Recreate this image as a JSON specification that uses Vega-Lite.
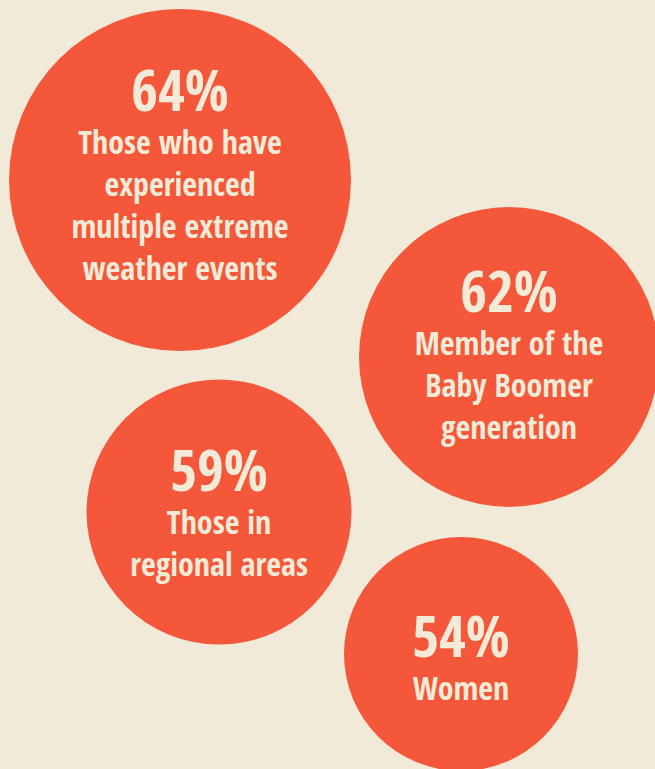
{
  "$schema": "https://vega.github.io/schema/vega-lite/v6.json",
  "width": 655,
  "height": 769,
  "padding": 0,
  "autosize": "none",
  "background": "#f2ead9",
  "config": {"view": {"stroke": null}},
  "data": {
    "values": [
      {"pct": 64, "desc": "Those who have\nexperienced\nmultiple extreme\nweather events", "cx": 180, "cy": 180},
      {"pct": 62, "desc": "Member of the\nBaby Boomer\ngeneration", "cx": 509, "cy": 357},
      {"pct": 59, "desc": "Those in\nregional areas", "cx": 219, "cy": 512},
      {"pct": 54, "desc": "Women", "cx": 461, "cy": 654}
    ]
  },
  "encoding": {
    "x": {"field": "cx", "type": "quantitative", "scale": {"domain": [0, 655], "nice": false, "zero": false}, "axis": null},
    "y": {"field": "cy", "type": "quantitative", "scale": {"domain": [0, 769], "nice": false, "zero": false, "reverse": true}, "axis": null}
  },
  "layer": [
    {
      "mark": {"type": "circle", "color": "#f45739", "opacity": 1},
      "encoding": {
        "size": {"field": "pct", "type": "quantitative", "scale": {"domain": [54, 59, 62, 64], "range": [54756, 70225, 90000, 116964]}, "legend": null}
      }
    },
    {
      "mark": {"type": "text", "font": "Noto Sans Condensed, Open Sans Condensed, DejaVu Sans Condensed, sans-serif", "fontWeight": "bold", "fontSize": 58, "color": "#f3ead8", "align": "center", "baseline": "alphabetic",
        "dy": {"expr": "27 - 24 * length(split(datum.desc, '\\n'))"},
        "text": {"expr": "datum.pct + '%'"}}
    },
    {
      "mark": {"type": "text", "font": "Noto Sans Condensed, Open Sans Condensed, DejaVu Sans Condensed, sans-serif", "fontWeight": 600, "fontSize": 32, "color": "#f3ead8", "align": "center", "baseline": "alphabetic", "lineHeight": 42, "lineBreak": "\n",
        "dy": {"expr": "70 - 24 * length(split(datum.desc, '\\n'))"}},
      "encoding": {"text": {"field": "desc"}}
    }
  ]
}
